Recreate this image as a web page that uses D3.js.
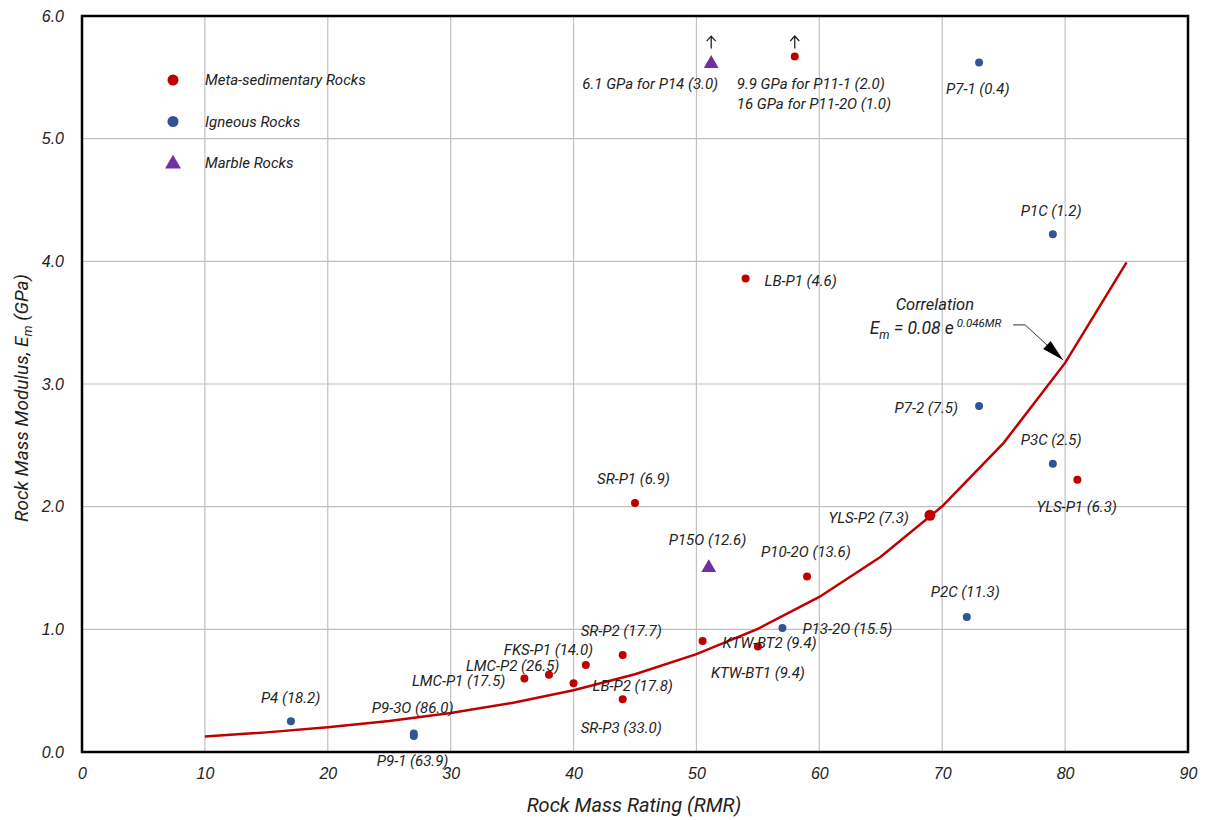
<!DOCTYPE html>
<html><head><meta charset="utf-8">
<script src="https://cdn.jsdelivr.net/npm/d3@7"></script>
<style>
html,body{margin:0;padding:0;background:#fff;}
svg text{font-family:Roboto,"Liberation Sans",sans-serif;font-style:italic;}
</style></head>
<body><svg id="chart" width="1206" height="820"></svg>
<script>
// ---- data ----
const xTicks = [0,10,20,30,40,50,60,70,80,90];
const yTicks = [0,1,2,3,4,5,6];

const metaNames = ["P11", "LB-P1 (4.6)", "SR-P1 (6.9)", "P10-2O (13.6)", "YLS-P2 (7.3)", "YLS-P1 (6.3)", "SR-P2 (17.7)", "KTW-BT2 (9.4)", "KTW-BT1 (9.4)", "FKS-P1 (14.0)", "LMC-P2  (26.5)", "LMC-P1 (17.5)", "LB-P2 (17.8)", "SR-P3 (33.0)"];
const metaRMR   = [58, 54, 45, 59, 69, 81, 44, 50.5, 55, 41, 38, 36, 40, 44];
const metaEm    = [5.67, 3.86, 2.03, 1.43, 1.93, 2.22, 0.79, 0.905, 0.86, 0.71, 0.63, 0.60, 0.56, 0.43];

const ignNames = ["P7-1 (0.4)", "P1C (1.2)", "P7-2 (7.5)", "P3C (2.5)", "P2C (11.3)", "P13-2O (15.5)", "P4 (18.2)", "P9-3O (86.0)", "P9-1 (63.9)"];
const ignRMR   = [73, 79, 73, 79, 72, 57, 17, 27, 27];
const ignEm    = [5.62, 4.22, 2.82, 2.35, 1.10, 1.01, 0.25, 0.15, 0.13];

const marNames = ["P14", "P15O (12.6)"];
const marRMR   = [51.2, 51];
const marEm    = [5.62, 1.51];

const curveRMR = [10,15,20,25,30,35,40,45,50,55,60,65,70,75,80,85];
const curveEm  = [0.127,0.160,0.201,0.253,0.318,0.400,0.504,0.634,0.798,1.004,1.264,1.591,2.003,2.520,3.172,3.992];

const offLabelsP11 = ["9.9 GPa for P11-1 (2.0)", "16 GPa for P11-2O (1.0)"];
const offLabelP14 = "6.1 GPa for P14 (3.0)";

// ---- label placement (pixels relative to point) ----
const metaOff = [null,[19,2,"start"],[-38,-24,"start"],[-46,-25,"start"],[-21,2,"end"],[-41,27,"start"],[-42,-24,"start"],[20,2,"start"],[-47,26,"start"],[-82,-15,"start"],[-83,-9,"start"],[-19,2,"end"],[19,2,"start"],[-42,28,"start"]];
const ignOff = [[-33,26,"start"],[-32,-24,"start"],[-21,2,"end"],[-32,-24,"start"],[-36,-25,"start"],[20,1,"start"],[-30,-24,"start"],[-42,-26,"start"],[-37,25,"start"]];
const marOff = [null,[-40,-27,"start"]];

const RED = "#c00000", BLUE = "#2f5597", PURPLE = "#7030a0";
const FS = 15;

const svg = d3.select("#chart");
const m = {l:82, t:16, r:18, b:68};
const W = 1206 - m.l - m.r, H = 820 - m.t - m.b;
const g = svg.append("g").attr("transform", `translate(${m.l},${m.t})`);
const x = d3.scaleLinear().domain([0,90]).range([0,W]);
const y = d3.scaleLinear().domain([0,6]).range([H,0]);

// grid
g.append("g").selectAll("line").data(xTicks.slice(1,-1)).join("line")
  .attr("x1",d=>x(d)).attr("x2",d=>x(d)).attr("y1",0).attr("y2",H)
  .attr("stroke","#c0c0c0").attr("stroke-width",1.2);
g.append("g").selectAll("line").data(yTicks.slice(1,-1)).join("line")
  .attr("y1",d=>y(d)).attr("y2",d=>y(d)).attr("x1",0).attr("x2",W)
  .attr("stroke","#c0c0c0").attr("stroke-width",1.2);

// axes
const xa = g.append("g").attr("transform",`translate(0,${H})`)
  .call(d3.axisBottom(x).tickValues(xTicks).tickFormat(d3.format("d")).tickSize(0).tickPadding(16));
const ya = g.append("g")
  .call(d3.axisLeft(y).tickValues(yTicks).tickFormat(d3.format(".1f")).tickSize(0).tickPadding(18));
[xa,ya].forEach(a=>{a.select(".domain").remove();
  a.selectAll("text").attr("font-size",16).attr("fill","#222")
   .style("font-family","'Liberation Sans',Arial,sans-serif").style("font-style","italic");});

// frame
g.append("rect").attr("x",0).attr("y",0).attr("width",W).attr("height",H)
  .attr("fill","none").attr("stroke","#000").attr("stroke-width",2.5);

// axis titles
svg.append("text").attr("x",634).attr("y",812).attr("text-anchor","middle")
  .attr("font-size",20).attr("fill","#222").text("Rock Mass Rating (RMR)");
const yt = svg.append("text").attr("transform",`translate(28,${m.t+H/2+14}) rotate(-90)`)
  .attr("text-anchor","middle").attr("font-size",19).attr("fill","#222");
yt.append("tspan").text("Rock Mass Modulus, E");
yt.append("tspan").attr("font-size",13).attr("dy",4).text("m");
yt.append("tspan").attr("dy",-4).text(" (GPa)");

// curve
const line = d3.line().x(d=>x(d[0])).y(d=>y(d[1]));
g.append("path").datum(curveRMR.map((r,i)=>[r,curveEm[i]]))
  .attr("d",line).attr("fill","none").attr("stroke",RED).attr("stroke-width",2.5);

// points
function dots(rmr, em, color, r){
  return g.append("g").selectAll("circle").data(rmr.map((v,i)=>[v,em[i]])).join("circle")
    .attr("cx",d=>x(d[0])).attr("cy",d=>y(d[1])).attr("r",r).attr("fill",color);
}
dots(metaRMR, metaEm, RED, 4).attr("r",(d,i)=>metaNames[i].startsWith("YLS-P2")?5.5:4);
dots(ignRMR, ignEm, BLUE, 4);
const tri = d3.symbol().type(d3.symbolTriangle).size(95);
g.append("g").selectAll("path").data(marRMR.map((v,i)=>[v,marEm[i]])).join("path")
  .attr("d",tri).attr("transform",d=>`translate(${x(d[0])},${y(d[1])+1})`).attr("fill",PURPLE);

// labels
function labels(names, rmr, em, off){
  names.forEach((n,i)=>{
    const o = off[i]; if(!o) return;
    g.append("text").attr("x",x(rmr[i])+o[0]).attr("y",y(em[i])+o[1]).attr("dy","0.35em")
      .attr("text-anchor",o[2]).attr("font-size",FS).attr("fill","#222").text(n);
  });
}
labels(metaNames, metaRMR, metaEm, metaOff);
labels(ignNames, ignRMR, ignEm, ignOff);
labels(marNames, marRMR, marEm, marOff);

// off-scale annotations
const p11x = x(metaRMR[0]), p11y = y(metaEm[0]);
offLabelsP11.forEach((t,i)=>g.append("text").attr("x",p11x-58).attr("y",p11y+27+i*20).attr("dy","0.35em")
  .attr("font-size",FS).attr("fill","#222").text(t));
const p14x = x(marRMR[0]), p14y = y(marEm[0]);
g.append("text").attr("x",p14x+7).attr("y",p14y+21).attr("dy","0.35em").attr("text-anchor","end")
  .attr("font-size",FS).attr("fill","#222").text(offLabelP14);
[[p11x,p11y-14],[p14x,p14y-20]].forEach(p=>{
  g.append("path").attr("d",`M${p[0]},${p[1]+6}V${p[1]-6}M${p[0]-4.5},${p[1]-1.5}L${p[0]},${p[1]-6.5}L${p[0]+4.5},${p[1]-1.5}`)
   .attr("fill","none").attr("stroke","#222").attr("stroke-width",1.3);
});

// legend
const leg = [["Meta-sedimentary Rocks",RED,"c"],["Igneous Rocks",BLUE,"c"],["Marble Rocks",PURPLE,"t"]];
leg.forEach((d,i)=>{
  const ly = 64 + i*41.5;
  if(d[2]==="c") g.append("circle").attr("cx",91).attr("cy",ly).attr("r",5.5).attr("fill",d[1]);
  else g.append("path").attr("d",d3.symbol().type(d3.symbolTriangle).size(110)).attr("transform",`translate(91,${ly+1})`).attr("fill",d[1]);
  g.append("text").attr("x",123).attr("y",ly).attr("dy","0.35em").attr("font-size",FS).attr("fill","#222").text(d[0]);
});

// correlation annotation
const ax = x(80), ay = y(curveEm[14]);
g.append("text").attr("x",x(69.4)).attr("y",288).attr("dy","0.35em").attr("text-anchor","middle")
  .attr("font-size",16.5).attr("fill","#222").text("Correlation");
const eq = g.append("text").attr("x",x(64.1)).attr("y",312).attr("dy","0.35em")
  .attr("font-size",17.5).attr("fill","#222");
eq.append("tspan").text("E");
eq.append("tspan").attr("font-size",12).attr("dy",5).text("m");
eq.append("tspan").attr("dy",-5).text(" = 0.08 e");
eq.append("tspan").attr("font-size",11.5).attr("dy",-7).text(" 0.046MR");
g.append("path").attr("d",`M${ax-52},${ay-38}H${ax-40}L${ax-2},${ay-3}`)
  .attr("fill","none").attr("stroke","#333").attr("stroke-width",1);
// arrowhead
const ang = Math.atan2(35, 38);
const hx = ax-2, hy = ay-3, L=22, w=5.5;
const bx = hx - L*Math.cos(ang), by = hy - L*Math.sin(ang);
g.append("path").attr("d",`M${hx},${hy}L${bx - w*Math.sin(ang)},${by + w*Math.cos(ang)}L${bx + w*Math.sin(ang)},${by - w*Math.cos(ang)}Z`)
  .attr("fill","#000");
</script></body></html>
